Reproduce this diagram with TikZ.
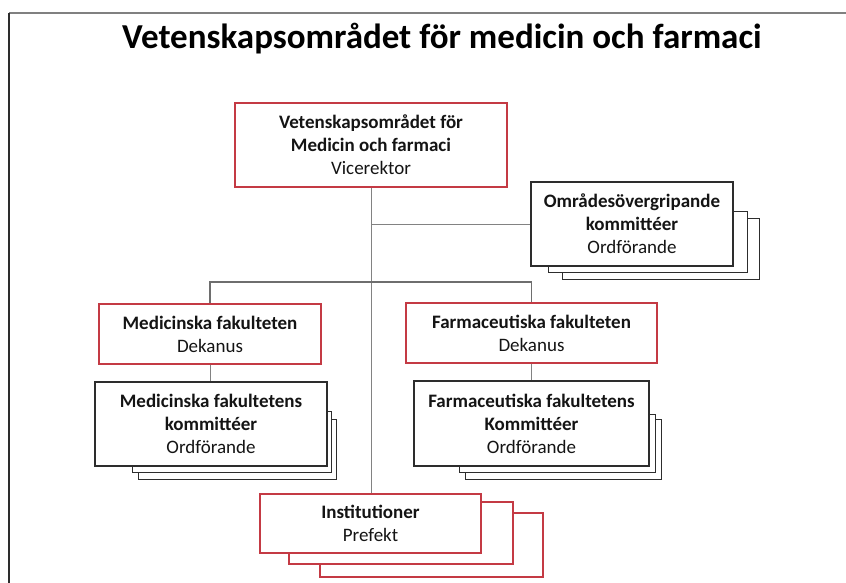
\documentclass[tikz,border=0pt]{standalone}
\usepackage{fontspec}
\setmainfont{Carlito}
\usetikzlibrary{calc, positioning}
\pgfdeclarelayer{stack}
\pgfsetlayers{stack,main}
\definecolor{boxred}{RGB}{196,58,68}
\definecolor{boxdark}{RGB}{45,45,45}
\definecolor{linegray}{RGB}{130,130,130}
\definecolor{textdark}{RGB}{20,20,20}
\tikzset{
    unit/.style = {
        draw, rectangle, fill=white, inner sep=0pt, align=center,
        text=textdark, font=\fontsize{19}{23}\selectfont
    },
    redunit/.style = {unit, draw=boxred, line width=1.6pt},
    dunit/.style = {unit, draw=boxdark, line width=1.1pt},
    link/.style = {draw=linegray, line width=0.9pt},
    bus/.style = {draw=linegray!85!black, line width=1.6pt},
}

\begin{document}
\begin{tikzpicture}[x=1pt, y=-1pt]
        \useasboundingbox (0,0) rectangle (846,583);

        % Frame and title
        \draw[draw=gray, line width=2pt] (9,13) -- (846,13);
        \draw[draw=boxdark, line width=2pt] (9,13) -- (9,583);
        \node[anchor=base, font=\fontsize{35}{40}\selectfont\bfseries, text=black] (title)
            at (442,49) {Vetenskapsområdet för medicin och farmaci};

        % Place the blocks
        \node[redunit, minimum width=272pt, minimum height=84pt] (vr) at (371,145)
            {\textbf{Vetenskapsområdet för}\\\textbf{Medicin och farmaci}\\Vicerektor};
        \node[dunit, minimum width=202pt, minimum height=84pt] (omr) at (632,224)
            {\textbf{Områdesövergripande}\\\textbf{kommittéer}\\Ordförande};
        \node[redunit, minimum width=222pt, minimum height=60pt] (medfak) at (210,334)
            {\textbf{Medicinska fakulteten}\\Dekanus};
        \node[redunit, minimum width=251pt, minimum height=60pt] (farmfak) at (531.5,333)
            {\textbf{Farmaceutiska fakulteten}\\Dekanus};
        \node[dunit, minimum width=232pt, minimum height=84pt] (medkom) at (211,424)
            {\textbf{Medicinska fakultetens}\\\textbf{kommittéer}\\Ordförande};
        \node[dunit, minimum width=235pt, minimum height=85pt] (farmkom) at (531.5,423.5)
            {\textbf{Farmaceutiska fakultetens}\\\textbf{Kommittéer}\\Ordförande};
        \node[redunit, minimum width=221pt, minimum height=59pt] (inst) at (370.5,523.5)
            {\textbf{Institutioner}\\Prefekt};

        % Stacked copies behind
        \begin{pgfonlayer}{stack}
            \foreach \nm/\lo/\bo/\ro/\to/\col/\lw in {
                    omr/32/13/26/37/boxdark/1.1, omr/18/6/14/30/boxdark/1.1,
                    medkom/44/13/9/38/boxdark/1.1, medkom/38/6/4/30/boxdark/1.1,
                    farmkom/52/13/12/39/boxdark/1.1, farmkom/46/6/6/34/boxdark/1.1,
                    inst/61/23/61/20/boxred/1.6, inst/30/10/31/9/boxred/1.6}{
                \draw[draw=\col, line width=\lw pt, fill=white]
                    ($(\nm.south west)+(\lo,\bo)$) rectangle ($(\nm.north east)+(\ro,\to)$);
            }
        \end{pgfonlayer}

        % Draw connections
        \draw[link] (vr.south) -- (vr.south |- inst.north);
        \draw[link] (vr.south |- omr.west) -- (omr.west);
        \draw[bus] (medfak.north) -- ++(0,-21) -| (farmfak.north);
        \draw[link] (medfak.south) -- (medfak.south |- medkom.north);
        \draw[link] (farmfak.south) -- (farmfak.south |- farmkom.north);
\end{tikzpicture}
\end{document}
